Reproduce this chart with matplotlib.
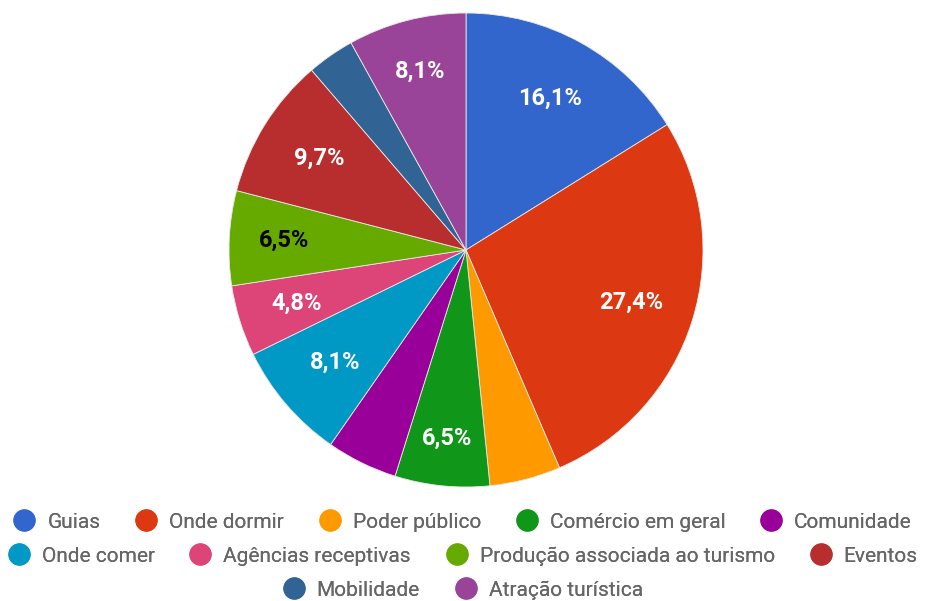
import matplotlib
matplotlib.use("Agg")
from matplotlib import pyplot as plt
from matplotlib.lines import Line2D
import numpy as np

plt.rcParams['font.family'] = ['Roboto', 'DejaVu Sans']

# categorias e contagens (62 respostas)
categorias = ["Guias", "Onde dormir", "Poder público", "Comércio em geral",
              "Comunidade", "Onde comer", "Agências receptivas",
              "Produção associada ao turismo", "Eventos", "Mobilidade",
              "Atração turística"]
contagens = [10, 17, 3, 4, 3, 5, 3, 4, 6, 2, 5]
cores = ["#3366cc", "#dc3912", "#ff9900", "#109618", "#990099", "#0099c6",
         "#dd4477", "#66aa00", "#b82e2e", "#316395", "#994499"]
# fatias sem rotulo (texto nao cabe)
sem_rotulo = ["Poder público", "Comunidade", "Mobilidade"]
linhas_legenda = [[0, 1, 2, 3, 4], [5, 6, 7, 8], [9, 10]]

# distancia do rotulo ao centro, por fatia
dist_rotulo = {"Comércio em geral": 0.80, "Atração turística": 0.78,
               "Produção associada ao turismo": 0.77,
               "Agências receptivas": 0.75}

W, H = 926, 601
fig = plt.figure(figsize=(W / 100, H / 100), dpi=100)
cx, cy, r = 466, 250, 237
ax = fig.add_axes([(cx - r) / W, (H - cy - r) / H, 2 * r / W, 2 * r / H])

total = sum(contagens)
ax.pie(contagens, colors=cores, startangle=90, counterclock=False,
       radius=1.0, wedgeprops=dict(edgecolor="#e8e8e8", linewidth=0.6))
ax.set_xlim(-1, 1)
ax.set_ylim(-1, 1)
ax.set_aspect("equal")
ax.axis("off")

ang = 90.0
for nome, v, cor in zip(categorias, contagens, cores):
    frac = v / total
    meio = np.deg2rad(ang - frac * 360 / 2)
    ang -= frac * 360
    if nome in sem_rotulo:
        continue
    d = dist_rotulo.get(nome, 0.73)
    txt = f"{frac * 100:.1f}%".replace(".", ",")
    cor_txt = "black" if cor == "#66aa00" else "white"
    ax.text(d * np.cos(meio), d * np.sin(meio), txt, ha="center",
            va="center", fontsize=17, fontweight="bold", color=cor_txt)

ys = [522, 556, 590]
for linha, y in zip(linhas_legenda, ys):
    handles = [Line2D([], [], marker="o", linestyle="none", markersize=15,
                      markerfacecolor=cores[i], markeredgecolor=cores[i])
               for i in linha]
    leg = fig.legend(handles, [categorias[i] for i in linha], loc="center",
                     bbox_to_anchor=(0.5, 1 - y / H), ncol=len(linha),
                     frameon=False, fontsize=15, handletextpad=0.6,
                     columnspacing=1.7, handlelength=1.0,
                     labelcolor="#666666", borderpad=0, borderaxespad=0)
    fig.add_artist(leg)

fig.savefig("out.png", dpi=100)
